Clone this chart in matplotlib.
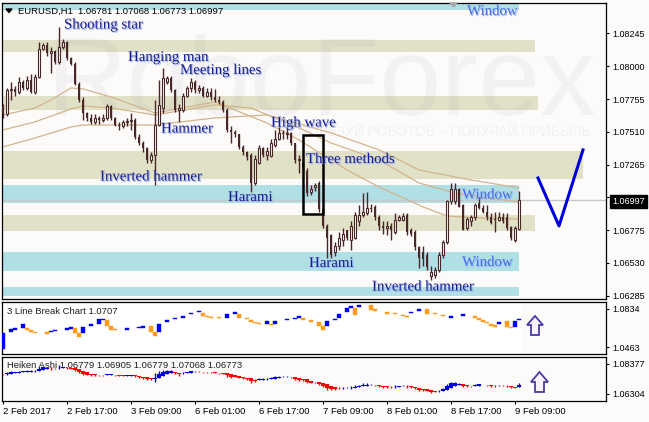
import numpy as np
import matplotlib
matplotlib.use('Agg')
import matplotlib.pyplot as plt
import matplotlib.transforms as mtransforms
import matplotlib.patheffects as pe
from matplotlib.patches import Rectangle, Polygon

plt.rcParams['font.family'] = ['Liberation Sans', 'DejaVu Sans']

# EURUSD H1 candles, 2 Feb 2017 -> 9 Feb 2017
opens = [1.0770, 1.0764, 1.0782, 1.0783, 1.0781, 1.0788, 1.0784, 1.0790, 1.0781, 1.0792,
         1.0813, 1.0816, 1.0810, 1.0811, 1.0803, 1.0814, 1.0818, 1.0806, 1.0802, 1.0787,
         1.0775, 1.0765, 1.0761, 1.0758, 1.0761, 1.0760, 1.0761, 1.0770, 1.0761, 1.0756,
         1.0755, 1.0758, 1.0759, 1.0760, 1.0747, 1.0743, 1.0739, 1.0730, 1.0734, 1.0756,
         1.0769, 1.0788, 1.0791, 1.0782, 1.0767, 1.0767, 1.0778, 1.0784, 1.0788, 1.0782,
         1.0784, 1.0778, 1.0781, 1.0777, 1.0775, 1.0773, 1.0767, 1.0752, 1.0751, 1.0749,
         1.0740, 1.0736, 1.0734, 1.0713, 1.0728, 1.0739, 1.0734, 1.0733, 1.0741, 1.0746,
         1.0750, 1.0749, 1.0750, 1.0743, 1.0730, 1.0728, 1.0722, 1.0706, 1.0710, 1.0713,
         1.0693, 1.0681, 1.0674, 1.0661, 1.0666, 1.0670, 1.0678, 1.0670, 1.0672, 1.0684,
         1.0689, 1.0690, 1.0694, 1.0695, 1.0687, 1.0681, 1.0679, 1.0681, 1.0676, 1.0685,
         1.0685, 1.0689, 1.0678, 1.0676, 1.0665, 1.0661, 1.0659, 1.0643, 1.0644, 1.0648,
         1.0659, 1.0669, 1.0699, 1.0699, 1.0708, 1.0696, 1.0679, 1.0684, 1.0687, 1.0698,
         1.0694, 1.0691, 1.0687, 1.0686, 1.0685, 1.0687, 1.0687, 1.0680, 1.0670, 1.06781]
highs = [1.0772, 1.0784, 1.0788, 1.0785, 1.0792, 1.0790, 1.0793, 1.0794, 1.0794, 1.0818,
         1.0817, 1.0818, 1.0814, 1.0812, 1.0829, 1.0820, 1.0819, 1.0807, 1.0803, 1.0788,
         1.0777, 1.0766, 1.0764, 1.0764, 1.0763, 1.0764, 1.0772, 1.0771, 1.0762, 1.0758,
         1.0760, 1.0761, 1.0765, 1.0761, 1.0749, 1.0744, 1.0740, 1.0736, 1.0775, 1.0790,
         1.0799, 1.0793, 1.0793, 1.0783, 1.0772, 1.0780, 1.0785, 1.0791, 1.0790, 1.0786,
         1.0785, 1.0784, 1.0784, 1.0783, 1.0778, 1.0775, 1.0769, 1.0755, 1.0752, 1.0749,
         1.0741, 1.0737, 1.0735, 1.0734, 1.0741, 1.0740, 1.0740, 1.0746, 1.0752, 1.0755,
         1.0752, 1.0754, 1.0751, 1.0743, 1.0734, 1.0730, 1.0724, 1.0711, 1.0713, 1.0714,
         1.0694, 1.0682, 1.0675, 1.0669, 1.0676, 1.0679, 1.0678, 1.0684, 1.0691, 1.0696,
         1.0705, 1.0706, 1.0697, 1.0696, 1.0689, 1.0684, 1.0684, 1.0683, 1.0690, 1.0689,
         1.0690, 1.0690, 1.0679, 1.0678, 1.0666, 1.0666, 1.0661, 1.0651, 1.0650, 1.0661,
         1.0670, 1.0700, 1.0713, 1.0713, 1.0709, 1.0697, 1.0687, 1.0689, 1.0698, 1.0702,
         1.0696, 1.0696, 1.0690, 1.0691, 1.0691, 1.0690, 1.0690, 1.0681, 1.0681, 1.07068]
lows = [1.0761, 1.0763, 1.0775, 1.0778, 1.0779, 1.0782, 1.0782, 1.0780, 1.0779, 1.0791,
        1.0812, 1.0808, 1.0795, 1.0802, 1.0802, 1.0813, 1.0805, 1.0801, 1.0786, 1.0773,
        1.0760, 1.0759, 1.0757, 1.0757, 1.0757, 1.0758, 1.0760, 1.0760, 1.0755, 1.0752,
        1.0754, 1.0755, 1.0752, 1.0746, 1.0741, 1.0736, 1.0728, 1.0728, 1.0711, 1.0755,
        1.0765, 1.0787, 1.0781, 1.0766, 1.0758, 1.0766, 1.0777, 1.0781, 1.0780, 1.0780,
        1.0777, 1.0777, 1.0775, 1.0773, 1.0772, 1.0766, 1.0751, 1.0743, 1.0747, 1.0738,
        1.0734, 1.0730, 1.0706, 1.0711, 1.0727, 1.0732, 1.0730, 1.0732, 1.0740, 1.0745,
        1.0746, 1.0746, 1.0741, 1.0728, 1.0720, 1.0722, 1.0703, 1.0704, 1.0707, 1.0691,
        1.0679, 1.0657, 1.0657, 1.0658, 1.0663, 1.0666, 1.0670, 1.0663, 1.0671, 1.0681,
        1.0687, 1.0689, 1.0691, 1.0685, 1.0678, 1.0675, 1.0674, 1.0670, 1.0675, 1.0684,
        1.0684, 1.0674, 1.0673, 1.0663, 1.0649, 1.0651, 1.0648, 1.0640, 1.0642, 1.0646,
        1.0657, 1.0667, 1.0697, 1.0697, 1.0695, 1.0678, 1.0678, 1.0681, 1.0685, 1.0693,
        1.0690, 1.0685, 1.0682, 1.0676, 1.0684, 1.0683, 1.0678, 1.0670, 1.0669, 1.06773]
closes = [1.0764, 1.0782, 1.0783, 1.0781, 1.0788, 1.0784, 1.0790, 1.0781, 1.0792, 1.0813,
          1.0816, 1.0810, 1.0811, 1.0803, 1.0814, 1.0818, 1.0806, 1.0802, 1.0787, 1.0775,
          1.0765, 1.0761, 1.0758, 1.0761, 1.0760, 1.0761, 1.0770, 1.0761, 1.0756, 1.0755,
          1.0758, 1.0759, 1.0760, 1.0747, 1.0743, 1.0739, 1.0730, 1.0734, 1.0756, 1.0771,
          1.0791, 1.0791, 1.0782, 1.0767, 1.0769, 1.0778, 1.0784, 1.0788, 1.0782, 1.0784,
          1.0778, 1.0781, 1.0777, 1.0775, 1.0773, 1.0767, 1.0752, 1.0751, 1.0749, 1.0740,
          1.0736, 1.0732, 1.0713, 1.0731, 1.0739, 1.0734, 1.0737, 1.0743, 1.0746, 1.0750,
          1.0749, 1.0750, 1.0743, 1.0730, 1.0731, 1.0725, 1.0705, 1.0708, 1.0711, 1.0693,
          1.0681, 1.0672, 1.0659, 1.0666, 1.0672, 1.0675, 1.0672, 1.0681, 1.0689, 1.0689,
          1.0691, 1.0694, 1.0693, 1.0687, 1.0681, 1.0679, 1.0681, 1.0678, 1.0685, 1.0687,
          1.0688, 1.0676, 1.0675, 1.0665, 1.0657, 1.0656, 1.0650, 1.0646, 1.0648, 1.0659,
          1.0669, 1.0699, 1.0708, 1.0708, 1.0695, 1.0678, 1.0686, 1.0687, 1.0696, 1.0694,
          1.0691, 1.0687, 1.0683, 1.0685, 1.0687, 1.0684, 1.0679, 1.0672, 1.0679, 1.06997]

# moving averages, sampled along the curves
ma_x = [0, 8, 12, 17, 20, 27, 38, 42, 53, 58, 66, 74, 82, 86, 94, 105, 111, 119, 129]
ma_fast = [1.07636, 1.07688, 1.07748, 1.07838, 1.07830, 1.07770, 1.07651, 1.07673, 1.07733, 1.07673,
           1.07576, 1.07449, 1.07300, 1.07225, 1.07098, 1.06949, 1.06881, 1.06867, 1.06859]
ma_mid_x = [0, 8, 17, 20, 27, 38, 53, 62, 74, 82, 94, 104, 113, 121, 129]
ma_mid = [1.07524, 1.07584, 1.07681, 1.07703, 1.07688, 1.07636, 1.07711, 1.07688, 1.07539, 1.07427,
          1.07300, 1.07128, 1.07053, 1.07016, 1.06986]
ma_slow_x = [0, 8, 17, 20, 27, 38, 53, 66, 82, 94, 104, 117, 129]
ma_slow = [1.07397, 1.07464, 1.07546, 1.07561, 1.07561, 1.07561, 1.07614, 1.07636, 1.07502, 1.07375,
           1.07225, 1.07150, 1.07091]

# support / resistance zones: low, high, right end (bar), kind
zone_lo = [1.08420, 1.08107, 1.07673, 1.07158, 1.06979, 1.06770, 1.06471, 1.06284]
zone_hi = [1.08476, 1.08196, 1.07778, 1.07367, 1.07113, 1.06889, 1.06613, 1.06351]
zone_end = [129.1, 133.0, 133.75, 145.0, 129.1, 133.0, 129.1, 129.1]
zone_kind = ['window', 'level', 'level', 'level', 'window', 'level', 'window', 'window']

# forecast path
fc_x = [133.75, 139, 145]
fc_y = [1.07165, 1.06807, 1.07375]

ask = 1.06997
price_ticks = [1.08245, 1.08000, 1.07755, 1.07510, 1.07265, 1.07020, 1.06775, 1.06530, 1.06285]

# 3 Line Break blocks: bar, top, bottom, direction
lb_x = [0, 2, 3, 5, 6, 7, 8, 11, 12, 13, 16, 17, 18, 19, 20, 22, 24, 25, 26, 27,
        28, 31, 34, 35, 37, 38, 39, 41, 43, 45, 47, 49, 50, 51, 52, 54, 56, 58, 59, 61,
        62, 63, 64, 66, 67, 68, 71, 73, 74, 75, 77, 79, 80, 81, 83, 84, 86, 87, 88, 89,
        92, 93, 96, 98, 100, 101, 102, 104, 106, 108, 110, 112, 115, 118, 119, 120, 121, 122, 123, 124,
        126, 127, 128, 129]
lb_top = [1.0600, 1.0639, 1.0649, 1.0688, 1.0649, 1.0629, 1.0610, 1.0610, 1.0619, 1.0629,
          1.0649, 1.0658, 1.0649, 1.0600, 1.0658, 1.0688, 1.0736, 1.0736, 1.0727, 1.0668,
          1.0639, 1.0649, 1.0658, 1.0668, 1.0668, 1.0610, 1.0688, 1.0727, 1.0746, 1.0766,
          1.0795, 1.0815, 1.0795, 1.0766, 1.0756, 1.0756, 1.0785, 1.0805, 1.0785, 1.0746,
          1.0727, 1.0707, 1.0697, 1.0717, 1.0688, 1.0717, 1.0736, 1.0746, 1.0766, 1.0746,
          1.0727, 1.0707, 1.0668, 1.0717, 1.0736, 1.0785, 1.0844, 1.0863, 1.0844, 1.0873,
          1.0873, 1.0834, 1.0805, 1.0795, 1.0775, 1.0766, 1.0805, 1.0834, 1.0834, 1.0795,
          1.0775, 1.0766, 1.0785, 1.0766, 1.0746, 1.0727, 1.0707, 1.0688, 1.0678, 1.0707,
          1.0717, 1.0658, 1.0717, 1.0736]
lb_bot = [1.0440, 1.0610, 1.0629, 1.0649, 1.0629, 1.0610, 1.0600, 1.0590, 1.0610, 1.0619,
          1.0629, 1.0639, 1.0600, 1.0561, 1.0600, 1.0668, 1.0688, 1.0727, 1.0668, 1.0629,
          1.0629, 1.0629, 1.0649, 1.0649, 1.0610, 1.0571, 1.0610, 1.0707, 1.0736, 1.0746,
          1.0785, 1.0805, 1.0766, 1.0756, 1.0746, 1.0746, 1.0746, 1.0785, 1.0746, 1.0736,
          1.0707, 1.0697, 1.0688, 1.0688, 1.0678, 1.0688, 1.0727, 1.0736, 1.0746, 1.0727,
          1.0707, 1.0668, 1.0629, 1.0668, 1.0727, 1.0746, 1.0805, 1.0844, 1.0775, 1.0854,
          1.0824, 1.0815, 1.0785, 1.0785, 1.0766, 1.0756, 1.0795, 1.0815, 1.0785, 1.0785,
          1.0766, 1.0746, 1.0766, 1.0746, 1.0727, 1.0707, 1.0697, 1.0668, 1.0658, 1.0688,
          1.0658, 1.0649, 1.0658, 1.0727]
lb_up = [1, 1, 1, 1, 0, 0, 0, 0, 1, 1, 1, 1, 0, 0, 1, 1, 1, 1, 0, 0,
         0, 1, 1, 1, 0, 0, 1, 1, 1, 1, 1, 1, 0, 0, 0, 0, 1, 1, 0, 0,
         0, 0, 0, 1, 0, 1, 1, 1, 1, 0, 0, 0, 0, 1, 1, 1, 1, 1, 0, 1,
         0, 0, 0, 0, 0, 0, 1, 1, 0, 0, 0, 1, 1, 0, 0, 0, 0, 0, 0, 1,
         0, 0, 1, 1]

time_ticks = [0, 16, 32, 48, 64, 80, 96, 112, 128]
time_labels = ['2 Feb 2017', '2 Feb 17:00', '3 Feb 09:00', '6 Feb 01:00', '6 Feb 17:00',
               '7 Feb 09:00', '8 Feb 01:00', '8 Feb 17:00', '9 Feb 09:00']

W, H = 649, 422
BG = '#fdfafa'
BROWN = '#4a2626'
fig = plt.figure(figsize=(W / 100, H / 100), dpi=100, facecolor=BG)
PX = mtransforms.Affine2D().scale(1 / W, -1 / H).translate(0, 1) + fig.transFigure


def box(l, t, r, b):
    return [l / W, 1 - b / H, (r - l) / W, (b - t) / H]


ax1 = fig.add_axes(box(2, 2.5, 606, 299))
ax2 = fig.add_axes(box(2, 301.5, 606, 354))
ax3 = fig.add_axes(box(2, 356.5, 606, 401))
xl = (-0.25, 150.75)
for ax in (ax1, ax2, ax3):
    ax.set_facecolor(BG)
    ax.set_xlim(*xl)
    for s in ax.spines.values():
        s.set_linewidth(0.9)
        s.set_color('black')
    ax.yaxis.tick_right()
    ax.tick_params(axis='y', length=2.5, width=0.8, pad=2, labelsize=6.5)
    ax.tick_params(axis='x', length=0, labelbottom=False)

# ---- main panel
ax1.set_ylim(1.06261, 1.08476)
for lo, hi, end, kind in zip(zone_lo, zone_hi, zone_end, zone_kind):
    col = '#b0dfe5' if kind == 'window' else '#e1e1c8'
    ax1.add_patch(Rectangle((-1, lo), end + 1, hi - lo, facecolor=col, edgecolor='none', zorder=1))

# watermark
ax1.text(321.5, 115, 'RoboForex', transform=PX, fontsize=80, ha='center', va='baseline',
         color='#3c3c78', alpha=0.045, zorder=1.5)
ax1.text(590, 136, 'ИСПОЛЬЗУЙ РОБОТОВ – ПОЛУЧАЙ ПРИБЫЛЬ', transform=PX, fontsize=10,
         ha='right', va='baseline', color='#3c3c78', alpha=0.05, zorder=1.5)

ax1.axhline(ask, color='#c8c8c8', lw=1, zorder=2)
for mx, my in ((ma_x, ma_fast), (ma_mid_x, ma_mid), (ma_slow_x, ma_slow)):
    ax1.plot(mx, my, color='#d2b48c', lw=0.9, zorder=2.5)

o = np.array(opens)
h = np.array(highs)
l = np.array(lows)
c = np.array(closes)
idx = np.arange(len(c))
up = c >= o
ax1.vlines(idx, l, h, color=BROWN, lw=1, zorder=3)
ax1.bar(idx[up], c[up] - o[up], bottom=o[up], width=0.7, facecolor=BG, edgecolor=BROWN, lw=0.8, zorder=4)
ax1.bar(idx[~up], o[~up] - c[~up], bottom=c[~up], width=0.7, color=BROWN, lw=0, zorder=4)

ax1.plot(fc_x, fc_y, color='#0000dd', lw=2.2, zorder=5)
ax1.add_patch(Rectangle((74.95, 1.06896), 5.1, 1.07483 - 1.06896, fill=False, edgecolor='black', lw=1.8, zorder=5))

ax1.set_yticks(price_ticks)
ax1.set_yticklabels(['%.5f' % v for v in price_ticks])
ax1.set_xticks([])

# pattern names
shadow = [pe.SimplePatchShadow(offset=(0.8, -0.8), shadow_rgbFace='#8fb0ff', alpha=0.9), pe.Normal()]
labels = [('Shooting star', 64, 28.5), ('Hanging man', 128, 61), ('Meeting lines', 180, 74),
          ('Hammer', 161, 132.5), ('High wave', 271, 126.5), ('Three methods', 306, 163),
          ('Inverted hammer', 100, 180.5), ('Harami', 228, 201), ('Harami', 309, 267),
          ('Inverted hammer', 372, 290.5)]
for s, x, y in labels:
    fig.text(x, y, s, transform=PX, fontsize=10.7, family='Liberation Serif', color='#1c1c86',
             va='baseline', zorder=10, path_effects=shadow)
for x, y in ((467, 15), (462, 198.5), (462, 266)):
    fig.text(x, y, 'Window', transform=PX, fontsize=10.7, family='Liberation Serif', color='#4a6ee0',
             va='baseline', zorder=10, path_effects=shadow)

fig.text(18, 13.5, 'EURUSD,H1  1.06781 1.07068 1.06773 1.06997', transform=PX, fontsize=6.8,
         color='black', va='baseline', zorder=10)
fig.add_artist(Polygon([(6, 9), (12, 9), (9, 12.5)], closed=True, transform=PX, color='black', zorder=10))
fig.add_artist(Polygon([(450, 3), (457, 3), (453.5, 7)], closed=True, transform=PX, color='#a8a8a8', zorder=10))
fig.text(612, 201.5, '%.5f' % ask, transform=PX, fontsize=6.5, color='white', va='center', zorder=11,
         bbox=dict(boxstyle='square,pad=0.25', facecolor='black', edgecolor='black'))

# ---- 3 Line Break panel
ax2.set_ylim(1.0395, 1.0907)
ax2.axvspan(-0.25, 129.5, color='white', lw=0, zorder=0.5)
lbx = np.array(lb_x)
lbt = np.array(lb_top)
lbb = np.array(lb_bot)
lbu = np.array(lb_up) == 1
ax2.bar(lbx[lbu], lbt[lbu] - lbb[lbu], bottom=lbb[lbu], width=1.0, color='#0000ff', edgecolor='#0000ff', lw=0.3, zorder=3)
ax2.bar(lbx[~lbu], lbt[~lbu] - lbb[~lbu], bottom=lbb[~lbu], width=1.0, color='#ff9a1a', edgecolor='#ff9a1a', lw=0.3, zorder=3)
ax2.set_yticks([1.0834, 1.0463])
ax2.set_yticklabels(['1.0834', '1.0463'])
ax2.set_xticks([])
ax2.text(7, 311, '3 Line Break Chart 1.0707', transform=PX, fontsize=6.8, color='#202020', va='center', zorder=6)

# ---- Heiken Ashi panel (from the candles above)
ha_c = (o + h + l + c) / 4
ha_o = np.empty_like(ha_c)
ha_o[0] = (o[0] + c[0]) / 2
for k in range(1, len(c)):
    ha_o[k] = (ha_o[k - 1] + ha_c[k - 1]) / 2
ha_h = np.maximum(h, np.maximum(ha_o, ha_c))
ha_l = np.minimum(l, np.minimum(ha_o, ha_c))
ha_col = np.where(ha_c >= ha_o, '#0000e0', '#ff0000')
ax3.set_ylim(1.05820, 1.08895)
ax3.vlines(idx, ha_l, ha_h, colors=ha_col, lw=1, zorder=3)
ax3.vlines(idx, np.minimum(ha_o, ha_c), np.maximum(ha_o, ha_c), colors=ha_col, lw=3, zorder=3)
ax3.set_yticks([1.08377, 1.06304])
ax3.set_yticklabels(['1.08377', '1.06304'])
ax3.set_xticks(time_ticks)
ax3.set_xticklabels(time_labels)
ax3.tick_params(axis='x', length=2.5, width=0.8, pad=2, labelsize=6.8, labelbottom=True)
for t in ax3.get_xticklabels():
    t.set_ha('left')
ax3.text(7, 366, 'Heiken Ashi 1.06779 1.06905 1.06779 1.07068 1.06773', transform=PX, fontsize=6.8,
         color='#202020', va='center', zorder=6)

# hollow arrows right of the indicators
for pts in ([(535, 316), (543, 325), (539, 325), (539, 335), (531, 335), (531, 325), (527, 325)],
            [(539.5, 372), (548, 382), (544, 382), (544, 392), (535, 392), (535, 382), (531, 382)]):
    fig.add_artist(Polygon(pts, closed=True, transform=PX, facecolor='#fbf4ff', edgecolor='#4a3aa8',
                           lw=1.3, zorder=10))

fig.savefig('out.png', dpi=100, facecolor=BG)
